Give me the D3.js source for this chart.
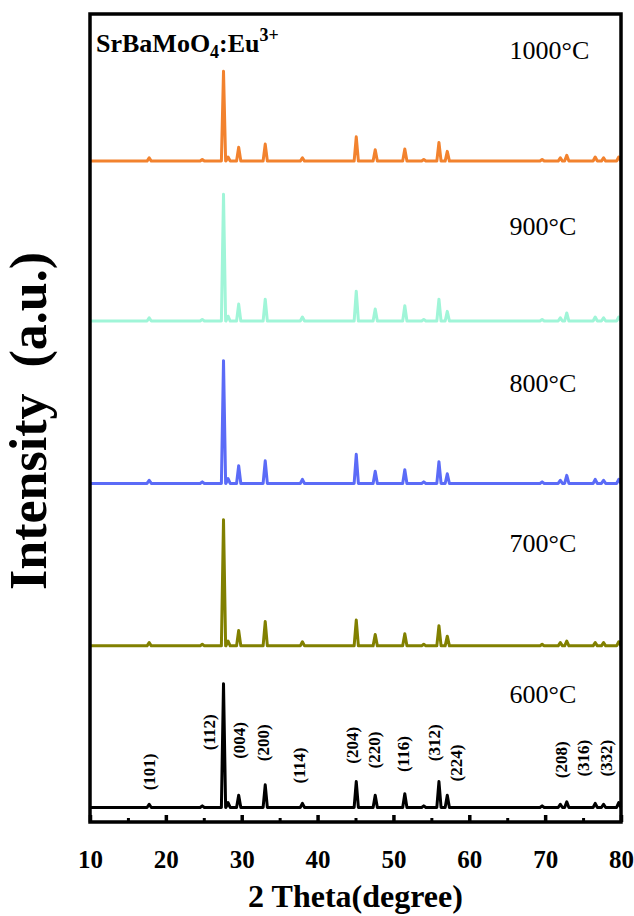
<!DOCTYPE html>
<html>
<head>
	<meta charset="utf-8">
	<title></title>
	<style>
		html, body {
			margin: 0;
			padding: 0;
			background: white;
		}
		svg text {
			font-family: "Liberation Serif", "Times New Roman", serif;
		}
	</style>
</head>
<body>

<svg class="chart" width="634" height="916"></svg>

<script src="https://d3js.org/d3.v7.min.js"></script>
<script>

// 2 theta positions of every peak seen in the patterns
var peakPos = [17.8, 24.8, 27.6, 28.2, 29.6, 33.1, 38.0, 45.1, 47.6, 51.5, 54.0, 56.0, 57.1, 69.6, 72.0, 72.85, 76.6, 77.7, 79.7]

// one row of peak heights per annealing temperature (arbitrary units)
var temps = ['600°C', '700°C', '800°C', '900°C', '1000°C']
var h600  = [4, 2, 153, 6, 15, 28, 5, 32, 15, 17, 2, 32, 15, 2, 4, 7, 5, 4, 6]
var h700  = [4, 2, 156, 6, 19, 30, 5, 32, 14, 15, 2, 25, 12, 2, 4, 6, 4, 4, 5]
var h800  = [4, 2, 152, 6, 22, 28, 5, 36, 15, 17, 2, 27, 12, 2, 4, 10, 5, 4, 5]
var h900  = [4, 2, 157, 6, 21, 27, 5, 37, 15, 19, 2, 27, 12, 2, 4, 10, 5, 4, 5]
var h1000 = [4, 2, 111, 5, 17, 21, 4, 30, 14, 15, 2, 23, 12, 2, 4, 7, 5, 4, 5]
var heights = [h600, h700, h800, h900, h1000]

// vertical offsets used to stack the patterns
var offsets = [18, 218, 419, 620, 818]
// where each temperature label sits (intensity units)
var tempLabelLevel = [147, 334, 532, 726, 944]

// miller indices marked on the 600°C pattern
var hklNames = ['(101)', '(112)', '(004)', '(200)', '(114)', '(204)', '(220)', '(116)', '(312)', '(224)', '(208)', '(316)', '(332)']
var hklPos   = [17.8, 25.7, 29.7, 32.8, 37.5, 44.6, 47.4, 51.3, 55.3, 58.2, 72.1, 75.0, 78.0]
var hklLevel = [62, 111, 101, 98, 70, 95, 89, 84, 98, 73, 77, 79, 79]

var xTicks = [10, 20, 30, 40, 50, 60, 70, 80]
var xMinor = [15, 25, 35, 45, 55, 65, 75]

var cfg = {
	left: 90,
	right: 621,
	top: 14,
	bottom: 822,
	peakHalf: 0.28,
	colors: ['#000000', '#818000', '#5b6bf7', '#a0f5d8', '#f2822e'],
}

var svg = d3.select('.chart')

var x = d3.scaleLinear().domain([10, 80]).range([cfg.left, cfg.right])
var y = d3.scaleLinear().domain([0, 1000]).range([cfg.bottom, cfg.top])

// turn a row of peak heights into a profile
function profile(hs, off) {
	var pts = [[10, off]]
	peakPos.forEach(function(p, i) {
		pts.push([p - cfg.peakHalf, off])
		pts.push([p, off + hs[i]])
		pts.push([p + cfg.peakHalf, off])
	})
	pts.push([80, off])
	return pts
}

var line = d3.line()
	.x(function(d) { return x(d[0]) })
	.y(function(d) { return y(d[1]) })

svg.append('g').selectAll('path')
	.data(heights)
	.enter().append('path')
		.attr('d', function(hs, i) { return line(profile(hs, offsets[i])) })
		.attr('fill', 'none')
		.attr('stroke', function(hs, i) { return cfg.colors[i] })
		.attr('stroke-width', 3)
		.attr('stroke-linejoin', 'round')

// temperature labels
svg.append('g').selectAll('text')
	.data(temps)
	.enter().append('text')
		.attr('x', x(65.3))
		.attr('y', function(t, i) { return y(tempLabelLevel[i]) })
		.attr('font-size', 26)
		.text(function(t) { return t })

// hkl labels
svg.append('g').selectAll('text')
	.data(hklNames)
	.enter().append('text')
		.attr('transform', function(n, i) {
			return 'translate(' + x(hklPos[i]) + ',' + y(hklLevel[i]) + ') rotate(-90)'
		})
		.attr('text-anchor', 'middle')
		.attr('dy', '0.35em')
		.attr('font-size', 17)
		.attr('font-weight', 'bold')
		.text(function(n) { return n })

// frame
svg.append('rect')
	.attr('x', cfg.left)
	.attr('y', cfg.top)
	.attr('width', cfg.right - cfg.left)
	.attr('height', cfg.bottom - cfg.top)
	.attr('fill', 'none')
	.attr('stroke', 'black')
	.attr('stroke-width', 3.5)

// bottom axis, ticks pointing in
var axis = svg.append('g')
	.attr('transform', 'translate(0,' + cfg.bottom + ')')
	.call(d3.axisBottom(x).tickValues(xTicks).tickSize(-7).tickPadding(28).tickFormat(d3.format('d')))
axis.select('.domain').remove()
axis.selectAll('line').attr('stroke-width', 3.5)
axis.selectAll('text')
	.attr('font-size', 25)
	.attr('font-weight', 'bold')
	.attr('font-family', '"Liberation Serif", "Times New Roman", serif')
	.attr('fill', 'black')

var minor = svg.append('g')
	.attr('transform', 'translate(0,' + cfg.bottom + ')')
	.call(d3.axisBottom(x).tickValues(xMinor).tickSize(-4).tickFormat(''))
minor.select('.domain').remove()
minor.selectAll('line').attr('stroke-width', 3)

// axis titles
svg.append('text')
	.attr('x', (cfg.left + cfg.right) / 2)
	.attr('y', 907)
	.attr('text-anchor', 'middle')
	.attr('font-size', 32)
	.attr('font-weight', 'bold')
	.text('2 Theta(degree)')

svg.append('text')
	.attr('transform', 'translate(46,421) rotate(-90)')
	.attr('text-anchor', 'middle')
	.attr('font-size', 52)
	.attr('font-weight', 'bold')
	.attr('xml:space', 'preserve')
	.style('white-space', 'pre')
	.text('Intensity  (a.u.)')

// sample name
var title = svg.append('text')
	.attr('x', 96)
	.attr('y', 52)
	.attr('font-size', 26)
	.attr('font-weight', 'bold')
title.append('tspan').text('SrBaMoO')
title.append('tspan').attr('font-size', 18).attr('dy', 6).text('4')
title.append('tspan').attr('dy', -6).text(':Eu')
title.append('tspan').attr('font-size', 18).attr('dy', -11).text('3+')

</script>

</body>
</html>
